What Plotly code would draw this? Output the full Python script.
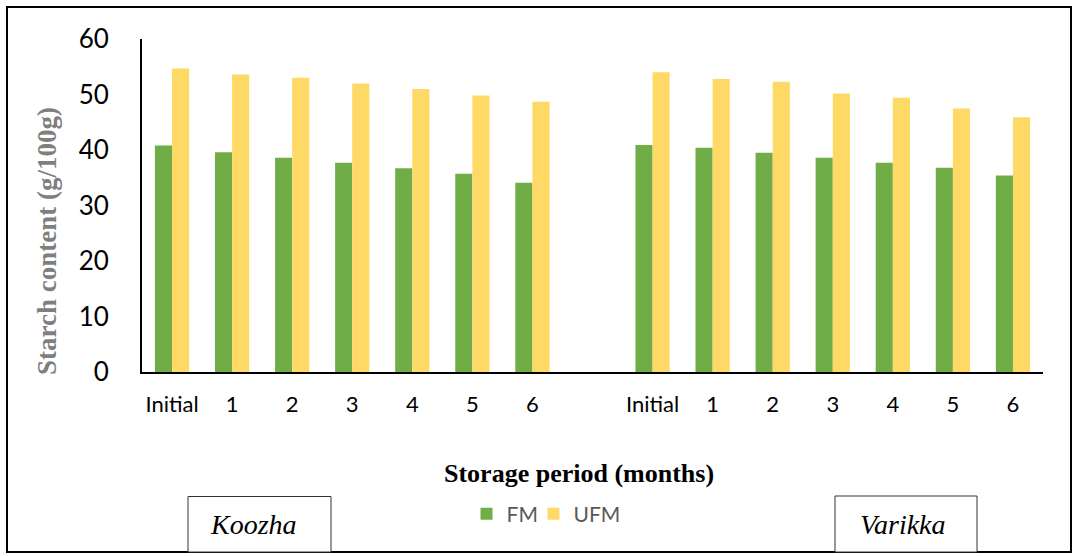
import plotly.graph_objects as go

# Starch content (g/100g) during storage, two cultivars
months = ["Initial", "1", "2", "3", "4", "5", "6"]
koozha_fm = [40.8, 39.6, 38.6, 37.7, 36.7, 35.7, 34.1]
koozha_ufm = [54.7, 53.6, 53.0, 52.0, 51.0, 49.8, 48.7]
varikka_fm = [40.9, 40.4, 39.5, 38.6, 37.7, 36.8, 35.4]
varikka_ufm = [54.0, 52.8, 52.3, 50.2, 49.4, 47.5, 45.9]

GREEN = "#70AD47"
YELLOW = "#FFD966"

# one empty slot separates the two cultivars on the category axis
n = len(months)
x_koozha = list(range(n))
x_varikka = [i + n + 1 for i in range(n)]
x_all = x_koozha + x_varikka

fig = go.Figure()
fig.add_trace(go.Bar(x=x_all, y=koozha_fm + varikka_fm, name="FM", legendwidth=22,
                     marker=dict(color=GREEN, line=dict(width=0))))
fig.add_trace(go.Bar(x=x_all, y=koozha_ufm + varikka_ufm, name="UFM",
                     marker=dict(color=YELLOW, line=dict(width=0))))

W, H = 1073, 556
L, R, T, B = 142, 30, 39, 184
pw, ph = W - L - R, H - T - B


def px(x):
    return (x - L) / pw


def py(y):
    return (H - B - y) / ph


shapes = [
    # outer frame
    dict(type="rect", xref="paper", yref="paper", x0=px(7), x1=px(1071), y0=py(7), y1=py(552),
         line=dict(color="black", width=2), layer="below"),
    # cultivar label boxes
    dict(type="rect", xref="paper", yref="paper", x0=px(188), x1=px(331), y0=py(496.5), y1=py(552),
         line=dict(color="#333333", width=1), fillcolor="white"),
    dict(type="rect", xref="paper", yref="paper", x0=px(835), x1=px(977), y0=py(496), y1=py(552),
         line=dict(color="#333333", width=1), fillcolor="white"),
]

annotations = [
    # axis titles
    dict(text="<b>Starch content (g/100g)</b>", xref="paper", yref="paper",
         x=px(47), y=py(241), textangle=-90, showarrow=False,
         font=dict(family="Liberation Serif", size=27, color="#7F7F7F"),
         xanchor="center", yanchor="middle"),
    dict(text="<b>Storage period (months)</b>", xref="paper", yref="paper",
         x=px(579), y=py(473), showarrow=False,
         font=dict(family="Liberation Serif", size=26, color="black"),
         xanchor="center", yanchor="middle"),
    # cultivar labels
    dict(text="<i>Koozha</i>", xref="paper", yref="paper", x=px(253), y=py(524),
         showarrow=False, font=dict(family="Liberation Serif", size=28, color="black"),
         xanchor="center", yanchor="middle"),
    dict(text="<i>Varikka</i>", xref="paper", yref="paper", x=px(903), y=py(524),
         showarrow=False, font=dict(family="Liberation Serif", size=28, color="black"),
         xanchor="center", yanchor="middle"),
]

fig.update_layout(
    width=W, height=H,
    margin=dict(l=L, r=R, t=T, b=B, autoexpand=False),
    paper_bgcolor="white", plot_bgcolor="white",
    barmode="group", bargap=0.43, bargroupgap=0,
    font=dict(family="Lato", color="black"),
    showlegend=True,
    legend=dict(orientation="h", x=px(546), y=py(514), xanchor="center", yanchor="middle",
                font=dict(family="Lato", size=21, color="#595959"), bgcolor="rgba(0,0,0,0)",
                traceorder="normal"),
    shapes=shapes,
    annotations=annotations,
    xaxis=dict(
        range=[-0.5, len(x_all) + 0.5],
        tickmode="array", tickvals=x_all, ticktext=months + months,
        showline=True, linecolor="black", linewidth=2,
        showgrid=False, zeroline=False, ticks="",
        tickfont=dict(family="Lato", size=22, color="black"),
        ticklabelstandoff=12,
    ),
    yaxis=dict(
        range=[0, 60], tickvals=[0, 10, 20, 30, 40, 50, 60],
        showline=True, linecolor="black", linewidth=2,
        showgrid=False, zeroline=False, ticks="",
        tickfont=dict(family="Lato", size=26, color="black"),
        ticklabelstandoff=26,
    ),
)

fig.write_html("out.html")
